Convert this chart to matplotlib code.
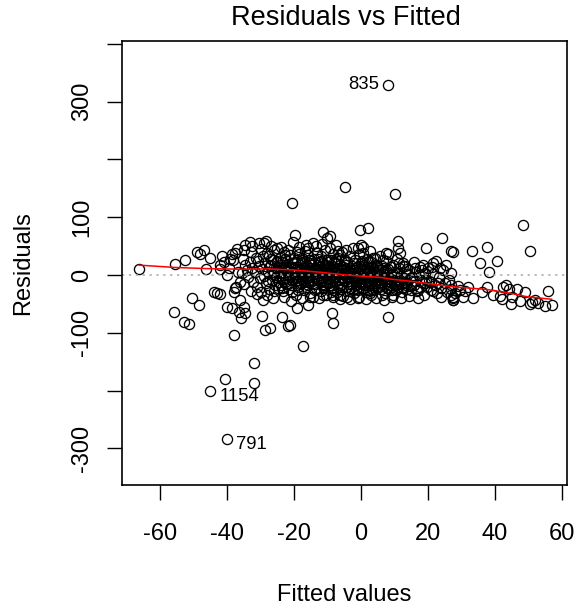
import matplotlib
matplotlib.use("Agg")
import matplotlib.pyplot as plt

plt.rcParams['font.family'] = ['Liberation Sans', 'DejaVu Sans']
plt.rcParams['axes.unicode_minus'] = False

# ---- data ----
# left side of the cloud (fitted < -36)
left_pts = [(-66.2, 10), (-55.5, 19), (-52.7, 26), (-49.0, 40), (-47.0, 43), (-48.0, 36),
            (-46.3, 10), (-42.0, 10), (-41.6, 33), (-38.6, 36), (-40.0, 0), (-43.0, -32),
            (-42.0, -33), (-50.5, -40), (-48.4, -52), (-56.0, -63.5), (-53.0, -81), (-51.3, -85),
            (-40.0, -55), (-38.6, -57), (-37.6, -23), (-37.8, -104), (-36.0, -75),
            (-42.0, 18), (-39.0, 28), (-37.0, 45), (-36.3, -12), (-38.0, -30), (-44.0, -30),
            (-37.6, 37.5), (-38.1, 26), (-37.3, -20), (-36.1, -43), (-36.6, -63.5),
            (-39.5, 12), (-36.8, 5), (-40.8, 22), (-45.0, 30)]

# upper and lower stragglers in the middle
mid_pts = [(-20.5, 124), (-11.3, 75), (-9.3, 67.5), (-10.2, 63.5), (-19.7, 69), (-20.2, 57.6),
           (-33.1, 57.6), (-34.6, 52), (-35.1, 43), (-25.2, 46), (-22.7, 34.6), (-15.7, 46),
           (-14.2, 55), (-6.3, 34.6), (-35.1, -55), (-34.6, -66), (-29.2, -43), (-26.2, -40),
           (-29.5, -71), (-23.7, -72), (-21.2, -86.5), (-21.7, -89), (-28.7, -95), (-27.2, -92),
           (-19.2, -57.6), (-15.7, -52), (-15.2, -37.5), (-17.4, -122), (-8.7, -66), (-8.3, -83.6),
           (-11.3, -34.6), (-8.3, -34.6), (-30.5, 55), (-28.5, 58),
           (-4.8, 151.7), (10.1, 140), (-0.3, 78), (2.2, 81), (11.1, 59), (11.1, 46), (24.1, 64.5),
           (19.4, 46), (26.9, 41.5), (7.4, 38.6), (-0.1, 52), (0.7, 49), (-0.8, 46), (8.2, -73),
           (9.6, -34.6), (17.1, -26), (21.6, -27), (21.6, 20), (20.1, 11.6), (23.6, 11.6),
           (27.6, -37.5), (28.1, -32), (27.6, -43), (-4.3, -37.5), (-0.8, -40), (-6.3, -34.6),
           (2.7, -32), (6.2, -35), (12.6, 15.6), (16.1, 11.6), (18.1, 8.7), (3.7, 28.9), (6.7, 26)]

# right side of the cloud (fitted > 27)
right_pts = [(48.3, 86), (50.4, 42), (33.0, 42), (37.5, 48), (35.5, 21), (40.5, 24), (38.2, 5.7),
             (27.4, 40), (27.0, 4), (37.7, -21), (42.5, -21), (43.3, -17), (44.3, -25), (46.5, -25),
             (41.5, -36), (45.0, -37.5), (44.7, -50), (55.7, -27), (51.0, -46), (52.0, -43),
             (50.4, -50), (55.0, -54), (57.0, -52), (29.6, -26), (30.4, -37.5), (27.6, -43),
             (27.0, -35), (29.0, -19), (31.0, -28), (33.5, -40), (36.0, -30), (39.5, -34),
             (42.0, -42), (47.5, -45), (53.0, -48), (49.0, -30), (32.0, -20)]

# dense core
core_pts = [
    (-35.2, 28), (-34.6, 18), (-34.1, 8), (-33.8, -3), (-33.3, 22), (-32.9, 40), (-32.5, 12),
    (-32.2, -12), (-31.8, 5), (-31.4, 30), (-31.0, -20), (-30.6, 16), (-30.3, -6), (-30.0, 45),
    (-35.6, 4), (-34.9, -15), (-33.0, -28), (-31.2, -33), (-30.8, 24), (-32.7, 50),
    (-29.7, 10), (-29.4, 32), (-29.1, -2), (-28.8, 20), (-28.5, -14), (-28.2, 38), (-27.9, 6),
    (-27.6, -25), (-27.3, 15), (-27.0, 28), (-26.7, -8), (-26.4, 2), (-26.1, 44), (-25.8, -18),
    (-25.5, 12), (-25.2, 22), (-29.9, -30), (-28.0, -35), (-26.9, 50), (-25.4, -4), (-29.0, 55),
    (-27.5, 33), (-26.0, -28),
    (-24.8, 8), (-24.5, -12), (-24.2, 30), (-23.9, 18), (-23.6, -22), (-23.3, 4), (-23.0, 40),
    (-22.7, -6), (-22.4, 14), (-22.1, 25), (-21.8, -15), (-21.5, 0), (-21.2, 35), (-20.9, 10),
    (-20.6, -30), (-20.3, 20), (-24.0, 48), (-22.9, -38), (-21.0, -45), (-24.6, -2), (-23.1, 12),
    (-22.0, 6), (-20.5, -8), (-21.7, 44), (-23.4, -28),
    (-19.8, 2), (-19.6, 14), (-19.4, -10), (-19.2, 26), (-19.0, 6), (-18.8, -20), (-18.6, 36),
    (-18.4, -2), (-18.2, 18), (-18.0, 10), (-17.8, -14), (-17.6, 30), (-17.4, 0), (-17.2, 22),
    (-17.0, -26), (-16.8, 8), (-16.6, 42), (-16.4, -6), (-16.2, 16), (-16.0, 4), (-15.8, -18),
    (-15.6, 26), (-15.4, 12), (-15.2, -32), (-19.5, -34), (-18.5, 48), (-17.5, -40), (-16.5, 52),
    (-15.5, -8), (-19.1, 40), (-17.9, 20), (-16.9, -12), (-15.9, 34),
    (-14.9, 6), (-14.7, -4), (-14.5, 18), (-14.3, -14), (-14.1, 28), (-13.9, 2), (-13.7, 12),
    (-13.5, -22), (-13.3, 38), (-13.1, 8), (-12.9, -8), (-12.7, 22), (-12.5, 0), (-12.3, 14),
    (-12.1, -28), (-11.9, 32), (-11.7, 4), (-11.5, -16), (-11.3, 20), (-11.1, 10), (-10.9, -2),
    (-10.7, 44), (-10.5, -34), (-10.3, 16), (-10.1, 26), (-14.4, -38), (-13.6, 50), (-12.6, -40),
    (-11.6, 54), (-10.6, -12), (-14.0, 10), (-12.0, 24), (-11.0, -22),
    (-9.9, 4), (-9.7, -6), (-9.5, 14), (-9.3, -18), (-9.1, 26), (-8.9, 0), (-8.7, 10), (-8.5, -26),
    (-8.3, 36), (-8.1, 6), (-7.9, -12), (-7.7, 20), (-7.5, -2), (-7.3, 12), (-7.1, -30), (-6.9, 30),
    (-6.7, 2), (-6.5, -14), (-6.3, 18), (-6.1, 8), (-5.9, -4), (-5.7, 40), (-5.5, -36), (-5.3, 14),
    (-5.1, 24), (-9.4, 46), (-8.4, -38), (-7.4, 52), (-6.4, -42), (-5.4, -20), (-9.0, -30), (-7.0, 42),
    (-4.9, 2), (-4.7, -8), (-4.5, 12), (-4.3, -20), (-4.1, 22), (-3.9, -2), (-3.7, 6), (-3.5, -28),
    (-3.3, 32), (-3.1, 4), (-2.9, -14), (-2.7, 16), (-2.5, -4), (-2.3, 8), (-2.1, -32), (-1.9, 26),
    (-1.7, 0), (-1.5, -18), (-1.3, 14), (-1.1, 6), (-0.9, -6), (-0.7, 36), (-0.5, -38), (-0.3, 10),
    (-0.1, 20), (-4.4, 44), (-3.4, -42), (-2.4, 46), (-1.4, -24), (-0.4, -12),
    (0.1, 0), (0.3, -10), (0.5, 10), (0.7, -22), (0.9, 18), (1.1, -4), (1.3, 4), (1.5, -30),
    (1.7, 28), (1.9, 2), (2.1, -16), (2.3, 12), (2.5, -6), (2.7, 6), (2.9, -34), (3.1, 22),
    (3.3, -2), (3.5, -20), (3.7, 10), (3.9, 2), (4.1, -10), (4.3, 30), (4.5, -40), (4.7, 6),
    (4.9, 16), (0.6, 38), (1.6, -42), (2.6, 42), (3.6, -26), (4.6, -14),
    (5.2, -2), (5.5, -14), (5.8, 8), (6.1, -24), (6.4, 16), (6.7, -6), (7.0, 2), (7.3, -32),
    (7.6, 24), (7.9, -10), (8.2, 10), (8.5, -18), (8.8, 0), (9.1, -38), (9.4, 18), (9.7, -4),
    (5.6, 32), (6.9, -44), (8.0, 36), (9.3, -26), (9.9, 6),
    (10.2, -8), (10.6, 4), (11.0, -20), (11.4, 12), (11.8, -2), (12.2, -30), (12.6, 20), (13.0, -12),
    (13.4, 2), (13.8, -24), (14.2, 8), (14.6, -6), (10.8, 28), (12.0, -40), (13.2, 16), (14.4, -36),
    (11.6, 38),
    (15.2, -4), (15.7, -18), (16.2, 6), (16.7, -28), (17.2, 0), (17.7, 14), (18.2, -12), (18.7, -34),
    (19.2, 4), (19.7, -20), (15.9, 22), (17.0, -40), (18.5, 18), (19.5, -8),
    (20.3, -10), (20.9, -26), (21.5, 2), (22.1, -18), (22.7, -32), (23.3, -4), (23.9, -22), (24.5, 8),
    (25.1, -14), (25.7, -30), (26.3, -8), (26.9, -24), (27.5, -40), (21.2, 14), (24.0, -38),
    (25.5, 18), (22.5, 24), (27.0, -18),
    (-24.3, 3), (-23.2, -7), (-22.2, 9), (-21.3, -3), (-20.2, 5), (-19.3, -5), (-18.3, 7), (-17.3, -9),
    (-16.3, 3), (-15.3, -1), (-14.2, 9), (-13.2, -5), (-12.2, 5), (-11.2, -9), (-10.2, 1), (-9.2, 7),
    (-8.2, -3), (-7.2, 5), (-6.2, -9), (-5.2, 1), (-4.2, -5), (-3.2, 9), (-2.2, -1), (-1.2, -9),
    (-0.2, 3), (0.8, -7), (1.8, 5), (2.8, -11), (3.8, -3), (4.8, -7), (5.8, -9), (6.8, 5),
    (7.8, -15), (8.8, -7), (9.8, -13), (10.8, -11), (11.8, -15), (12.8, -5), (13.8, -13), (14.8, -17),
    (-25.0, 24), (-23.8, -18), (-22.6, 28), (-21.4, -24), (-20.1, 30), (-18.9, -26), (-17.7, 26),
    (-16.5, -20), (-15.1, 20), (-13.9, -26), (-12.8, 28), (-11.4, -20), (-10.0, 22), (-8.8, -22),
    (-7.6, 28), (-6.0, -24), (-4.8, 26), (-3.6, -16), (-2.0, 20), (-0.8, -26), (0.4, 24), (1.2, -18),
    (2.4, 22), (3.4, -24), (4.4, 18), (5.4, -20), (6.6, 12), (7.7, -22), (9.0, 14), (10.4, -26),
    (11.2, 20), (12.4, -20), (13.6, 10), (14.9, -26),
    (-27.8, -10), (-26.8, 18), (-25.9, 6), (-24.9, -22), (-23.7, 22), (-22.8, -12), (-21.9, 16),
    (-20.8, -18), (-19.9, 12), (-18.7, -8), (-17.9, 2), (-16.7, 14), (-15.7, -12), (-14.8, 24),
    (-13.8, -16), (-12.7, 10), (-11.8, -6), (-10.8, 18), (-9.8, -10), (-8.6, 16), (-7.8, -6),
    (-6.8, 10), (-5.8, -16), (-4.6, 18), (-3.8, -10), (-2.6, 2), (-1.6, -12), (-0.6, 16), (0.2, -16),
    (1.4, 10), (2.2, -26), (3.2, 14), (4.2, -18), (5.0, 8), (6.0, -12), (7.2, -4), (8.4, -24),
    (9.6, 2), (10.6, -16), (11.6, -8), (12.6, -22), (13.5, -18), (16.0, -10), (17.5, -20),
    (19.0, -14), (21.0, -12), (23.0, -14),
    (-26.2, 26), (-24.7, 14), (-22.3, -16), (-19.7, 22), (-18.1, -16), (-16.1, 10), (-14.6, -10),
    (-13.0, 18), (-11.9, -12), (-10.4, 8), (-9.6, -14), (-8.0, 22), (-6.6, -20), (-5.0, 10),
    (-3.0, -22), (-1.8, 12), (-0.2, -20), (1.0, 14), (2.0, -8), (3.0, -14), (4.0, 6), (6.2, -16),
    (7.4, 8), (8.6, -12), (10.0, -18),
]

# labelled extreme points
outlier_ids = ["835", "1154", "791"]
outlier_fit = [8.2, -45.0, -40.1]
outlier_res = [328.7, -200.0, -283.0]
low_pts = [(-32.1, -151.7), (-40.6, -180.5), (-32.1, -186.0)]

# lowess smoother (red)
smooth_x = [-66.2, -55.5, -46.0, -36.0, -28.0, -20.2, -12.2, -4.3, 0.0, 5.7, 8.7, 15.0,
            21.5, 28.6, 37.5, 44.0, 49.5, 56.9]
smooth_y = [17.0, 13.0, 11.0, 10.0, 10.5, 8.7, 4.7, 0.0, -2.0, -4.0, -7.0, -11.0,
            -16.0, -21.0, -25.0, -31.0, -37.5, -42.0]

xticks = [-60, -40, -20, 0, 20, 40, 60]
yticks = [-300, -200, -100, 0, 100, 200, 300, 400]
ytick_labels = ["-300", "", "-100", "0", "100", "", "300", ""]

all_pts = left_pts + mid_pts + right_pts + core_pts + low_pts + list(zip(outlier_fit, outlier_res))
fx = [p[0] for p in all_pts]
ry = [p[1] for p in all_pts]

fig = plt.figure(figsize=(5.77, 6.09), dpi=100)
ax = fig.add_axes([0.212, 0.204, 0.770, 0.729])

ax.plot(fx, ry, 'o', markerfacecolor='none', markeredgecolor='black',
        markersize=7.3, markeredgewidth=0.95, linestyle='none')
ax.axhline(0, color='#a8a8a8', linestyle=(0, (1.5, 3)), linewidth=1.1)
ax.plot(smooth_x, smooth_y, color='red', linewidth=1.1)

for lab, x, y in zip(outlier_ids, outlier_fit, outlier_res):
    if x > 0:
        ax.annotate(lab, (x, y), xytext=(-7, 0), textcoords='offset points',
                    ha='right', va='center', fontsize=13.3)
    else:
        ax.annotate(lab, (x, y), xytext=(6.5, -4.5), textcoords='offset points',
                    ha='left', va='center', fontsize=13.3)

ax.set_xlim(-71.3, 61.4)
ax.set_ylim(-362.8, 405)
ax.set_xticks(xticks)
ax.set_yticks(yticks)
ax.set_yticklabels(ytick_labels, rotation=90, va='center')
ax.tick_params(axis='both', direction='out', length=10.8, width=1.0, labelsize=17)
ax.tick_params(axis='x', pad=17)
ax.tick_params(axis='y', pad=10)
for s in ax.spines.values():
    s.set_linewidth(1.2)

fig.text(0.600, 0.970, "Residuals vs Fitted", ha='center', va='center', fontsize=19.5)
fig.text(0.597, 0.023, "Fitted values", ha='center', va='center', fontsize=17)
fig.text(0.040, 0.568, "Residuals", ha='center', va='center', rotation=90, fontsize=17)

fig.savefig("out.png", dpi=100)
